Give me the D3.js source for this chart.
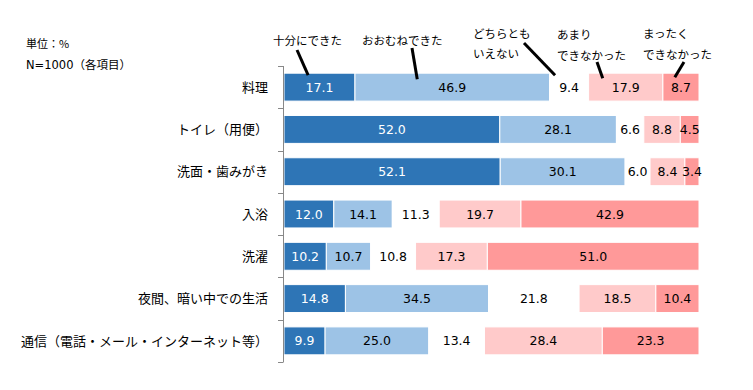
<!DOCTYPE html>
<html><head><meta charset="utf-8">
<script src="https://cdn.jsdelivr.net/npm/d3@7"></script>
<style>
body{margin:0;background:#fff;}
text{font-family:"DejaVu Sans","Noto Sans CJK JP",sans-serif;}
.jp{font-family:"Noto Sans CJK JP","DejaVu Sans",sans-serif;}
</style></head>
<body><svg id="c" width="753" height="390"></svg>
<script>
const categories = ["料理","トイレ（用便）","洗面・歯みがき","入浴","洗濯","夜間、暗い中での生活","通信（電話・メール・インターネット等）"];
const seriesNames = ["十分にできた","おおむねできた","どちらともいえない","あまりできなかった","まったくできなかった"];
const fullyAble      = [17.1, 52.0, 52.1, 12.0, 10.2, 14.8, 9.9];
const mostlyAble     = [46.9, 28.1, 30.1, 14.1, 10.7, 34.5, 25.0];
const neither        = [9.4, 6.6, 6.0, 11.3, 10.8, 21.8, 13.4];
const notVeryAble    = [17.9, 8.8, 8.4, 19.7, 17.3, 18.5, 28.4];
const notAtAllAble   = [8.7, 4.5, 3.4, 42.9, 51.0, 10.4, 23.3];
const seriesValues = [fullyAble, mostlyAble, neither, notVeryAble, notAtAllAble];
const colors = ["#2E75B6","#9DC3E6","#FFFFFF","#FFCACA","#FF9999"];
const labelColors = ["#fff","#000","#000","#000","#000"];
const legendLines = [["十分にできた"],["おおむねできた"],["どちらとも","いえない"],["あまり","できなかった"],["まったく","できなかった"]];

const svg = d3.select("#c");
const x = d3.scaleLinear().domain([0,100]).range([284,699]);
const y = d3.scaleBand().domain(categories).range([66,362]).paddingInner(0.34).paddingOuter(0.17);

const rows = categories.map((c,i)=>{const o={cat:c}; seriesNames.forEach((s,j)=>o[s]=seriesValues[j][i]); return o;});
const stack = d3.stack().keys(seriesNames)(rows);

const g = svg.append("g");
stack.forEach((layer,j)=>{
  const lg = g.append("g");
  lg.selectAll("rect").data(layer).join("rect")
    .attr("x",d=>x(d[0])).attr("width",d=>x(d[1])-x(d[0]))
    .attr("y",d=>y(d.data.cat)).attr("height",y.bandwidth())
    .attr("fill",colors[j]).attr("stroke","#fff").attr("stroke-width",1);
  lg.selectAll("text").data(layer).join("text")
    .attr("x",d=>(x(d[0])+x(d[1]))/2).attr("y",d=>y(d.data.cat)+y.bandwidth()/2)
    .attr("dy","0.36em").attr("text-anchor","middle")
    .attr("font-size",12.5).attr("fill",labelColors[j])
    .text(d=>d3.format(".1f")(d[1]-d[0]));
});

const ax = svg.append("g");
ax.append("line").attr("x1",283.5).attr("x2",283.5).attr("y1",66).attr("y2",362).attr("stroke","#888");
const step = y.step();
const bounds = categories.map(c=>y(c)-(step-y.bandwidth())/2).concat([y(categories[categories.length-1])+y.bandwidth()+(step-y.bandwidth())/2]);
ax.selectAll("line.t").data(bounds).join("line").attr("class","t")
  .attr("x1",278).attr("x2",283.5).attr("y1",d=>Math.round(d)+0.5).attr("y2",d=>Math.round(d)+0.5).attr("stroke","#888");
ax.selectAll("text.cat").data(categories).join("text").attr("class","cat jp")
  .attr("x",268).attr("y",c=>y(c)+y.bandwidth()/2).attr("dy","0.36em")
  .attr("text-anchor","end").attr("font-size",13).attr("fill","#000").text(c=>c);

svg.append("text").attr("class","jp").attr("x",26).attr("y",48).attr("font-size",11).text("単位：%");
svg.append("text").attr("x",26).attr("y",69).attr("font-size",11.5).text("N=1000（各項目）");

const legendPos = [
  {tx:273, ty:[45], sx:297, sy:50, frac:0.34, dy:2},
  {tx:362, ty:[45], sx:412, sy:48, frac:0.32, dy:6},
  {tx:473, ty:[38,58], sx:524, sy:43, frac:0.14, dy:2},
  {tx:557, ty:[39,60], sx:597, sy:62, frac:0.19, dy:5},
  {tx:643, ty:[38,59], sx:684, sy:62, frac:0.33, dy:4}
];
const top0 = y(categories[0]);
legendPos.forEach((p,j)=>{
  const seg = stack[j][0];
  const ex = x(seg[0]+(seg[1]-seg[0])*p.frac);
  svg.append("line").attr("x1",p.sx).attr("y1",p.sy).attr("x2",ex).attr("y2",top0+p.dy)
    .attr("stroke","#000").attr("stroke-width",3);
  legendLines[j].forEach((t,k)=>{
    svg.append("text").attr("class","jp").attr("x",p.tx).attr("y",p.ty[k]).attr("font-size",11.5).text(t);
  });
});
</script></body></html>
